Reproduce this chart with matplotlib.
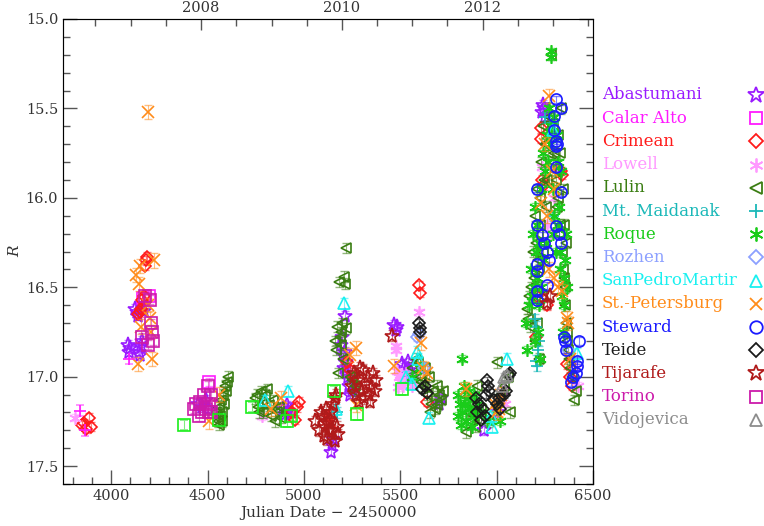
import datetime as dt
import matplotlib
matplotlib.use("Agg")
import matplotlib.pyplot as plt
from matplotlib.lines import Line2D

# --- Data (JD - 2450000, R mag) ---------------------------------------------
abastumani_jd = [4085, 4095, 4100, 4125, 4135, 4140, 4145, 4155, 4160, 4165, 4170, 4150,
                 4450, 4470, 4490, 4500, 4890, 4900, 4910, 4920, 4935,
                 5138, 5145, 5150, 5195, 5205, 5210, 5215, 5220, 5225, 5230, 5200, 5212,
                 5235, 5240, 5250, 5470, 5478, 5485, 5510, 5520, 5530, 5540, 5550, 5560,
                 5525, 5545, 5700, 5710, 5935, 6000, 6240, 6245, 6235, 6250]
abastumani_r = [16.82, 16.86, 16.84, 16.62, 16.64, 16.66, 16.86, 16.83, 16.80, 16.60, 16.63, 16.88,
                17.15, 17.17, 17.13, 17.18, 17.18, 17.21, 17.16, 17.19, 17.20,
                17.42, 17.38, 17.35, 16.82, 16.88, 16.95, 16.66, 16.92, 16.98, 17.00, 16.78, 16.86,
                17.05, 17.10, 17.08, 16.71, 16.74, 16.72, 16.93, 16.95, 16.97, 16.92, 16.98, 17.00,
                17.02, 16.96, 17.15, 17.12, 17.30, 17.20, 15.48, 15.50, 15.52, 15.55]

calaralto_jd = [4165, 4195, 4510]
calaralto_r = [16.56, 16.55, 17.03]

crimean_jd = [3850, 3870, 3885, 3895, 3860, 4140, 4150, 4155, 4170, 4160, 4180, 4185, 4175,
              4940, 4955, 4965, 4975, 5120, 5135, 5145, 5225, 5240, 5260, 5597, 5600, 5640,
              6229, 6229, 6237, 6245, 6340, 6335, 6203, 6210, 6367, 6380, 6390, 6260]
crimean_r = [17.27, 17.29, 17.23, 17.28, 17.26, 16.65, 16.64, 16.62, 16.55, 16.57, 16.35, 16.33, 16.38,
             17.20, 17.24, 17.17, 17.14, 17.25, 17.22, 17.30, 16.92, 16.96, 17.00, 16.49, 16.53, 17.14,
             15.61, 15.67, 15.90, 15.93, 15.87, 15.85, 16.78, 16.55, 16.93, 17.00, 17.05, 16.60]

lowell_jd = [3810, 4780, 5480, 5478, 5485, 5495, 5505, 5515, 5500, 5490, 5597, 5530, 5560, 5570,
             6010, 6030, 6045, 6237, 6260, 6280, 6300, 6410, 6420]
lowell_r = [17.23, 17.22, 16.83, 16.85, 16.97, 17.00, 17.03, 17.05, 16.99, 17.06, 16.64, 16.98, 17.05, 17.02,
            17.12, 17.08, 17.15, 15.83, 16.15, 16.20, 16.00, 16.95, 17.05]

lulin_jd = [4545, 4555, 4560, 4565, 4570, 4575, 4580, 4585, 4590, 4595, 4600, 4605, 4560, 4575,
            4745, 4755, 4760, 4765, 4775, 4785, 4790, 4800, 4810, 4820, 4830, 4840, 4850, 4860, 4870, 4880,
            5160, 5165, 5170, 5175, 5180, 5185, 5190, 5195, 5200, 5210, 5215, 5218, 5205, 5220,
            5240, 5250, 5260, 5265,
            5560, 5580, 5590, 5600, 5610, 5620, 5630, 5640, 5650, 5660, 5670, 5680, 5690, 5700,
            5710, 5720, 5655, 5690,
            5830, 5840, 5850, 5860, 5870, 5880, 5890, 5900, 5920, 5960, 6004, 6020, 6040, 6060, 6070,
            6160, 6165, 6170, 6175, 6180, 6190, 6200, 6210, 6215, 6220, 6230, 6240, 6250, 6260,
            6270, 6281, 6290, 6300, 6310, 6320, 6330, 6340, 6350, 6355, 6360, 6365, 6370, 6380,
            6400, 6410, 6320, 6335, 6345, 6350, 6360, 6225, 6235, 6210,
            6195, 6205, 6215, 6225, 6245, 6255, 6265, 6285, 6295, 6305, 6315, 6325, 6345, 6355,
            6365, 6375, 6390, 6200, 6220, 6240, 6330]
lulin_r = [17.20, 17.25, 17.17, 17.22, 17.13, 17.20, 17.10, 17.15, 17.05, 17.08, 17.03, 17.00, 17.27, 17.25,
           17.12, 17.10, 17.17, 17.20, 17.08, 17.15, 17.20, 17.10, 17.07, 17.16, 17.22, 17.13, 17.25, 17.20, 17.17, 17.23,
           16.80, 16.85, 16.72, 16.98, 16.47, 16.78, 16.75, 16.82, 16.70, 16.44, 16.48, 16.28, 16.90, 16.73,
           17.00, 17.02, 17.08, 17.05,
           16.95, 16.90, 16.92, 17.00, 17.03, 17.05, 16.95, 17.10, 17.00, 17.15, 17.08, 17.18, 17.05, 17.10,
           17.13, 17.08, 17.20, 17.16,
           17.10, 17.31, 17.20, 17.25, 17.15, 17.22, 17.28, 17.05, 17.18, 17.25, 16.92, 17.10, 17.05, 17.00, 17.20,
           16.62, 16.68, 16.55, 16.72, 16.50, 16.30, 16.10, 15.95, 16.20, 16.40, 15.80, 15.60, 15.70, 15.90,
           15.55, 15.20, 15.60, 15.75, 15.90, 16.00, 16.15, 16.30, 16.45, 16.60, 16.70, 16.75, 16.85, 16.95,
           17.13, 17.08, 15.65, 15.50, 15.95, 16.15, 16.25, 16.00, 16.55, 16.70,
           16.45, 16.25, 16.35, 16.15, 15.90, 16.05, 15.75, 15.65, 15.80, 15.85, 16.05, 16.20, 16.40, 16.50,
           16.80, 16.90, 17.00, 16.80, 16.90, 16.30, 15.75]

maidanak_jd = [5170, 6200, 6203, 6206, 6210, 6215, 6220, 6250, 6290, 6295]
maidanak_r = [17.20, 16.68, 16.72, 16.91, 16.94, 16.85, 16.80, 15.55, 15.58, 16.10]

roque_jd = [5822, 5800, 5810, 5820, 5830, 5840, 5850, 5860, 5870, 5880, 5890, 5800, 5815, 5835,
            5855, 5875, 5900, 5920, 5950, 6000, 6020, 5560, 5600,
            6150, 6160, 6170, 6180, 6190, 6200, 6205, 6210, 6220, 6225, 6230, 6240, 6250, 6260,
            6270, 6275, 6281, 6283, 6290, 6300, 6310, 6320, 6325, 6330, 6340, 6350, 6355, 6360,
            6365, 6215, 6195, 6245, 6255, 6300, 6315, 6335,
            6185, 6200, 6212, 6222, 6232, 6265, 6280, 6295, 6318, 6328, 6342, 6348]
roque_r = [16.90, 17.10, 17.15, 17.20, 17.05, 17.25, 17.12, 17.18, 17.28, 17.10, 17.20, 17.22, 17.27, 17.15,
           17.08, 17.22, 17.15, 17.20, 17.25, 17.18, 17.25, 17.00, 16.95,
           16.70, 16.85, 16.60, 16.40, 16.20, 16.05, 16.30, 16.45, 16.60, 16.90, 15.95, 15.75, 15.85, 15.65,
           15.50, 15.70, 15.18, 15.21, 15.95, 16.10, 16.30, 15.80, 16.05, 16.40, 16.55, 16.60, 16.35, 16.20,
           16.50, 16.75, 16.50, 16.35, 16.25, 15.55, 15.65, 15.85,
           16.55, 16.80, 16.15, 16.25, 16.50, 15.80, 15.60, 16.20, 16.15, 16.30, 16.75, 16.45]

rozhen_jd = [5587, 5595, 5625, 6370]
rozhen_r = [16.78, 16.76, 16.95, 16.85]

spm_jd = [4800, 4920, 5208, 5165, 5587, 5590, 5528, 5563, 5649, 5969, 5978, 6056, 6419, 6290]
spm_r = [17.13, 17.08, 16.59, 17.18, 16.86, 16.90, 17.00, 17.04, 17.23, 17.22, 17.28, 16.90, 16.87, 15.62]

stpete_jd = [4190, 4130, 4145, 4150, 4140, 4155, 4200, 4210, 4220, 4205, 4190,
             4510, 4560, 4830, 4880, 5268, 5268, 5240, 5467, 5606, 5620, 5640,
             5840, 5990, 6010, 6025, 6000,
             6272, 6229, 6300, 6260, 6272, 6341, 6367, 6370, 6380, 6300, 6320, 6250, 6285]
stpete_r = [15.52, 16.43, 16.48, 16.38, 16.93, 16.72, 16.67, 16.90, 16.35, 16.75, 16.60,
            17.25, 17.10, 17.18, 17.12, 16.84, 17.16, 16.88, 16.94, 16.81, 16.95, 16.98,
            17.07, 17.15, 17.18, 17.10, 17.20,
            15.43, 16.03, 15.95, 16.10, 16.40, 16.52, 16.67, 16.70, 16.90, 16.45, 16.50, 15.70, 15.85]

steward_jd = [6306, 6332, 6298, 6298, 6306, 6310, 6306, 6212, 6332, 6212, 6306, 6324, 6332,
              6237, 6246, 6263, 6212, 6212, 6272, 6263, 6212, 6212, 6350, 6355, 6358,
              6428, 6419, 6419, 6410, 6384, 6398, 6315]
steward_r = [15.45, 15.50, 15.54, 15.62, 15.68, 15.71, 15.83, 15.95, 15.97, 16.15, 16.16, 16.20, 16.25,
             16.21, 16.25, 16.30, 16.37, 16.41, 16.35, 16.49, 16.52, 16.57, 16.78, 16.80, 16.85,
             16.80, 16.91, 16.94, 16.98, 17.03, 17.00, 15.70]

teide_jd = [5597, 5600, 5603, 5615, 5641, 5630, 5893, 5900, 5910, 5920, 5930, 5945, 5952, 5955,
            5960, 5985, 6000, 6010, 6020, 6040, 6050, 6064, 6070, 5940]
teide_r = [16.70, 16.73, 16.75, 17.07, 17.09, 17.05, 17.12, 17.20, 17.15, 17.24, 17.18, 17.10, 17.02, 17.05,
           17.08, 17.13, 17.15, 17.12, 17.18, 17.10, 17.08, 16.99, 16.98, 17.22]

tijarafe_jd = [5060, 5080, 5090, 5100, 5105, 5110, 5115, 5120, 5125, 5130, 5135, 5140, 5150, 5160,
               5165, 5170, 5175, 5160, 5145,
               5250, 5260, 5270, 5280, 5290, 5300, 5310, 5320, 5330, 5340, 5350, 5360, 5370, 5375,
               5285, 5305, 5345, 5459, 6263, 6275]
tijarafe_r = [17.25, 17.30, 17.20, 17.22, 17.33, 17.28, 17.18, 17.35, 17.26, 17.30, 17.24, 17.20, 17.15, 17.12,
              17.10, 17.28, 17.32, 17.36, 17.30,
              17.05, 16.98, 17.10, 17.02, 16.95, 17.08, 17.12, 17.04, 17.00, 17.10, 17.06, 16.98, 17.08, 17.02,
              17.14, 16.96, 17.14, 16.77, 16.59, 16.55]

torino_jd = [4160, 4175, 4200, 4210, 4215, 4190, 4205,
             4430, 4440, 4460, 4470, 4480, 4490, 4500, 4505, 4510, 4520, 4520, 4455]
torino_r = [16.78, 16.55, 16.57, 16.75, 16.80, 16.82, 16.70,
            17.18, 17.15, 17.14, 17.20, 17.10, 17.18, 17.05, 17.20, 17.15, 17.20, 17.10, 17.22]

vidojevica_jd = [6040, 6056, 6030]
vidojevica_r = [17.00, 16.99, 17.05]

# points in the picture without a legend entry
extra_plus_jd = [3840, 3865, 4090]
extra_plus_r = [17.19, 17.30, 16.90]
extra_square_jd = [4380, 4730, 4910, 4935, 5156, 5276, 4560, 5510]
extra_square_r = [17.27, 17.17, 17.25, 17.22, 17.08, 17.21, 17.24, 17.07]

# (name, jd, r, colour, marker, size, typical error)
SERIES = [
    ("Abastumani", abastumani_jd, abastumani_r, "#9a1aff", "*", 11, 0.025),
    ("Calar Alto", calaralto_jd, calaralto_r, "#ff1aff", "s", 8, 0.02),
    ("Crimean", crimean_jd, crimean_r, "#ff1a1a", "D", 6.5, 0.025),
    ("Lowell", lowell_jd, lowell_r, "#ff99ff", (6, 2, 0), 9, 0.02),
    ("Lulin", lulin_jd, lulin_r, "#3a7d12", "<", 7, 0.03),
    ("Mt. Maidanak", maidanak_jd, maidanak_r, "#1ab8b8", "+", 9, 0.03),
    ("Roque", roque_jd, roque_r, "#1acc1a", (6, 2, 0), 9, 0.02),
    ("Rozhen", rozhen_jd, rozhen_r, "#8ca0ff", "D", 6.5, 0.02),
    ("SanPedroMartir", spm_jd, spm_r, "#1af0f0", "^", 8, 0.03),
    ("St.-Petersburg", stpete_jd, stpete_r, "#ff8c1a", "x", 8, 0.04),
    ("Steward", steward_jd, steward_r, "#1a1aff", "o", 8, 0.02),
    ("Teide", teide_jd, teide_r, "#1a1a1a", "D", 6.5, 0.02),
    ("Tijarafe", tijarafe_jd, tijarafe_r, "#b01a1a", "*", 11, 0.03),
    ("Torino", torino_jd, torino_r, "#cc1aaa", "s", 8, 0.025),
    ("Vidojevica", vidojevica_jd, vidojevica_r, "#8c8c8c", "^", 8, 0.02),
]

FONT = "DejaVu Serif"
AXCOL = "#555555"


def jd_of(year, month):
    return (dt.date(year, month, 1) - dt.date(2000, 1, 1)).days + 1544.5


def main():
    fig = plt.figure(figsize=(7.64, 5.26), dpi=100)
    ax = fig.add_axes([63 / 764, 42 / 526, 530 / 764, 465 / 526])

    ax.errorbar(extra_plus_jd, extra_plus_r, yerr=0.03, fmt="+", color="#ff1aff",
                ms=9, mew=1.2, ecolor="#ff80ff", elinewidth=0.8, capsize=3)
    ax.errorbar(extra_square_jd, extra_square_r, yerr=0.03, fmt="s", color="#1aee1a",
                mfc="none", ms=8, mew=1.2, ecolor="#80ee80", elinewidth=0.8, capsize=3)

    for name, jd, r, col, mk, ms, err in SERIES:
        filled = mk in ("+", "x", (6, 2, 0))
        ax.errorbar(jd, r, yerr=err, fmt="none", ecolor=col, alpha=0.55,
                    elinewidth=0.8, capsize=3)
        ax.plot(jd, r, linestyle="none", marker=mk, ms=ms, mew=1.2, color=col,
                mfc=col if filled else "none")

    ax.set_xlim(3750, 6500)
    ax.set_ylim(17.6, 15.0)
    ax.set_xticks([4000, 4500, 5000, 5500, 6000, 6500])
    ax.set_xticks(range(3800, 6500, 100), minor=True)
    ax.set_yticks([15.0, 15.5, 16.0, 16.5, 17.0, 17.5])
    ax.set_yticks([15 + 0.1 * i for i in range(27)], minor=True)
    ax.set_yticklabels(["15.0", "15.5", "16.0", "16.5", "17.0", "17.5"])
    ax.tick_params(which="both", direction="in", right=True, colors=AXCOL,
                   labelcolor="#333333", labelsize=10.5, width=1)
    ax.tick_params(which="major", length=10)
    ax.tick_params(which="minor", length=5)
    ax.tick_params(axis="x", which="both", top=False)
    for lab in ax.get_xticklabels() + ax.get_yticklabels():
        lab.set_fontfamily(FONT)
    for sp in ax.spines.values():
        sp.set_color(AXCOL)

    # years along the top
    top = ax.twiny()
    top.set_xlim(ax.get_xlim())
    top.set_xticks([jd_of(y, 1) for y in (2008, 2010, 2012)])
    top.set_xticklabels(["2008", "2010", "2012"], fontfamily=FONT, fontsize=10.5,
                        color="#333333")
    top.set_xticks([jd_of(y, m) for y in range(2006, 2014) for m in (1, 7)
                    if 3750 < jd_of(y, m) < 6500], minor=True)
    top.tick_params(which="both", direction="in", colors=AXCOL, labelcolor="#333333",
                    width=1, pad=3)
    top.tick_params(which="major", length=8)
    top.tick_params(which="minor", length=5)

    ax.set_xlabel("Julian Date \u2212 2450000", fontfamily=FONT, fontsize=11,
                  color="#333333", labelpad=2)
    ax.set_ylabel("R", fontfamily=FONT, fontsize=11, style="italic", color="#333333",
                  va="center")
    ax.yaxis.set_label_coords(-0.09, 0.5)

    # legend: coloured names, markers in a column on the right
    for i, (name, jd, r, col, mk, ms, err) in enumerate(SERIES):
        y = 1 - (95 + 23.2 * i) / 526
        fig.text(602 / 764, y, name, color=col, fontfamily=FONT, fontsize=12,
                 va="center", ha="left")
        filled = mk in ("+", "x", (6, 2, 0))
        fig.add_artist(Line2D([756 / 764], [y], transform=fig.transFigure, marker=mk,
                              ms=ms + 1, mew=1.3, color=col, linestyle="none",
                              mfc=col if filled else "none"))

    fig.savefig("out.png", dpi=100)


if __name__ == "__main__":
    main()
